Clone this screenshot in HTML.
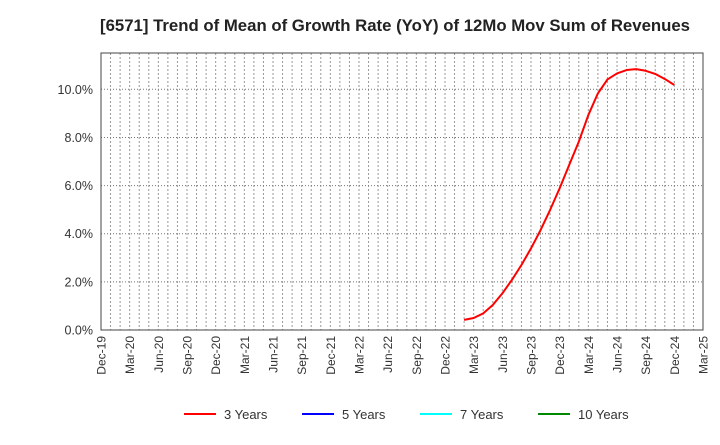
<!DOCTYPE html>
<html><head><meta charset="utf-8"><style>
body{margin:0;background:#fff;font-family:"Liberation Sans",sans-serif}
</style></head><body>
<svg width="720" height="440" xmlns="http://www.w3.org/2000/svg" font-family="Liberation Sans, sans-serif">
<rect width="720" height="440" fill="#fff"/>
<text x="395" y="31" text-anchor="middle" font-size="16.6" font-weight="bold" fill="#222" textLength="590" lengthAdjust="spacingAndGlyphs">[6571]  Trend of Mean of Growth Rate (YoY) of 12Mo Mov Sum of Revenues</text>
<g id="grid"></g><g id="axes"></g><g id="series"></g>
<rect x="101" y="53" width="602" height="277" fill="none" stroke="#444" stroke-width="1"/>
<g font-size="13" fill="#333">
<g><line x1="184" y1="414" x2="216" y2="414" stroke="#f00" stroke-width="2"/><text x="224" y="419">3 Years</text></g>
<g><line x1="302" y1="414" x2="334" y2="414" stroke="#00f" stroke-width="2"/><text x="342" y="419">5 Years</text></g>
<g><line x1="420" y1="414" x2="452" y2="414" stroke="#0ff" stroke-width="2"/><text x="460" y="419">7 Years</text></g>
<g><line x1="538" y1="414" x2="570" y2="414" stroke="#080" stroke-width="2"/><text x="578" y="419">10 Years</text></g>
</g>
</svg>
<script>
const xTickLabels=["Dec-19","Mar-20","Jun-20","Sep-20","Dec-20","Mar-21","Jun-21","Sep-21","Dec-21","Mar-22","Jun-22","Sep-22","Dec-22","Mar-23","Jun-23","Sep-23","Dec-23","Mar-24","Jun-24","Sep-24","Dec-24","Mar-25"];
const yTickValues=[0,2,4,6,8,10];
const series3StartMonth=38;
const series3Values=[0.42,0.5,0.69,1.04,1.52,2.08,2.70,3.39,4.15,4.99,5.89,6.86,7.82,8.93,9.83,10.41,10.66,10.8,10.84,10.77,10.64,10.43,10.18];
const NS="http://www.w3.org/2000/svg";
const X0=101,X1=703,Y0=330,Y1=53,MONTHS=63;
const xs=m=>X0+m*(X1-X0)/MONTHS;
const ys=v=>Y0-v*(Y0-89.3)/10;
function mk(t,a,p){const e=document.createElementNS(NS,t);for(const k in a)e.setAttribute(k,a[k]);p.appendChild(e);return e;}
const grid=document.getElementById('grid'),axes=document.getElementById('axes'),ser=document.getElementById('series');
for(let m=1;m<MONTHS;m++){const l=mk('line',{x1:xs(m),x2:xs(m),y1:Y1,y2:Y0,stroke:'#999','stroke-dasharray':'2,2','stroke-width':1},grid);

}
yTickValues.forEach(v=>{if(v>0){const l=mk('line',{x1:X0,x2:X1,y1:ys(v),y2:ys(v),stroke:'#777','stroke-dasharray':'1,2','stroke-width':1},grid);

}
const t=mk('text',{x:X0-8,y:ys(v)+4.5,'text-anchor':'end','font-size':12.5,fill:'#333'},axes);t.textContent=v.toFixed(1)+'%';

});
xTickLabels.forEach((s,i)=>{const x=xs(i*3);const t=mk('text',{x:0,y:0,transform:`translate(${x+4.5},${Y0+6}) rotate(-90)`,'text-anchor':'end','font-size':12,fill:'#333'},axes);t.textContent=s;

});
const pts=series3Values.map((v,i)=>xs(series3StartMonth+i)+','+ys(v)).join(' ');
const pl=mk('polyline',{points:pts,fill:'none',stroke:'#f00','stroke-width':2,'stroke-linejoin':'round'},ser);


</script>
</body></html>
